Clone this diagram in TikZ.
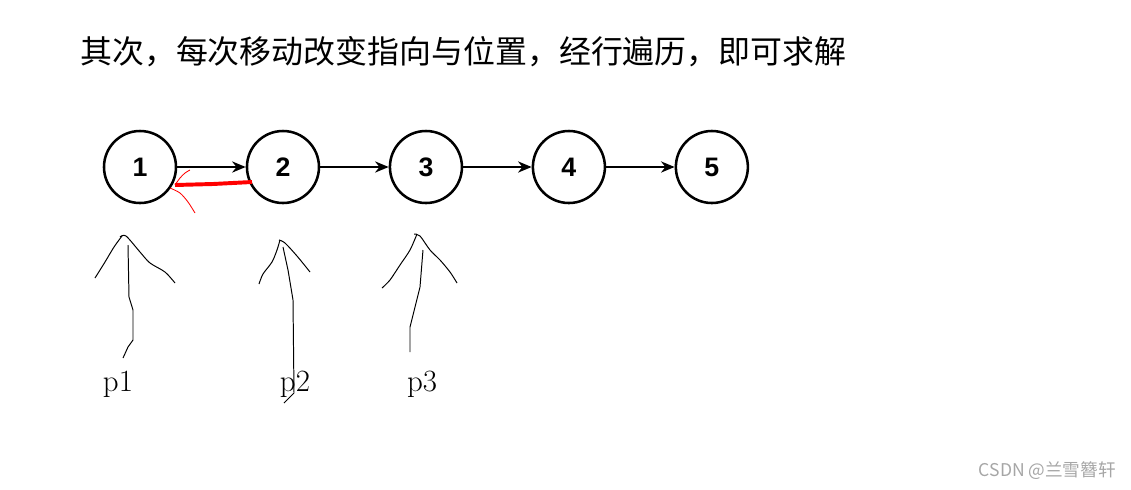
\documentclass[tikz,border=0pt]{standalone}
\usepackage{fontspec}
\setsansfont{Liberation Sans}
\newfontfamily\cjk{Noto Sans CJK SC}
\usepackage{tikz}
\usetikzlibrary{calc, positioning, arrows.meta}

\begin{document}
\begin{tikzpicture}[
    x=0.025cm, y=-0.025cm,
    node distance=1.71cm,
    listnode/.style={circle, draw, line width=1.8pt, minimum size=1.8cm, inner sep=0pt, font=\sffamily\bfseries\fontsize{19}{22}\selectfont},
    link/.style={-{Stealth[length=3.4mm, width=2.8mm]}, line width=1.4pt},
    pen/.style={line width=0.7pt, line join=round},
    redpen/.style={red, line width=0.6pt},
    label_style/.style={font=\fontsize{22}{26}\selectfont}
]
\useasboundingbox (0,0) rectangle (1131,489);

% title
\node[anchor=west, inner sep=0pt, font=\cjk\fontsize{22.7}{27}\selectfont] (title) at (80,52)
    {其次，每次移动改变指向与位置，经行遍历，即可求解};

% list
\node[listnode] (n1) at (140,167) {1};
\node[listnode, right=of n1] (n2) {2};
\node[listnode, right=of n2] (n3) {3};
\node[listnode, right=of n3] (n4) {4};
\node[listnode, right=of n4] (n5) {5};

\draw[link] (n1) -- (n2);
\draw[link] (n2) -- (n3);
\draw[link] (n3) -- (n4);
\draw[link] (n4) -- (n5);

% reversed link (red)
\draw[red, line width=2.8pt] (175,185) -- (213,184) -- (252,182);
\draw[redpen] plot[smooth] coordinates {(190,170) (185,173) (180,178) (175,185)};
\draw[redpen] plot[smooth] coordinates {(170,188) (180,193) (188,202) (195,213)};

% pointers
\node[label_style] (p1) at (118,384) {p1};
\node[label_style] (p2) at (295,384) {p2};
\node[label_style] (p3) at (422,384) {p3};

\draw[pen] plot[smooth] coordinates {(95,278) (105,262) (114,247) (122,236)};
\draw[pen] plot[smooth] coordinates {(120,237) (126,236) (140,252) (150,263) (165,272) (175,283)};
\draw[pen] plot coordinates {(128,245) (129,297) (133,310) (133,340) (128,347) (123,358)};

\draw[pen] plot[smooth] coordinates {(259,284) (263,274) (272,262) (277,250) (280,240)};
\draw[pen] plot[smooth] coordinates {(279,240) (285,243) (297,256) (310,272)};
\draw[pen] plot coordinates {(283,247) (288,270) (293,300) (294,393) (284,403)};

\draw[pen] plot[smooth] coordinates {(382,288) (390,280) (400,265) (410,250) (417,234)};
\draw[pen] plot[smooth] coordinates {(414,234) (420,236) (430,250) (440,260) (450,272) (457,283)};
\draw[pen] plot coordinates {(423,250) (420,287) (410,327) (410,352)};

% watermark
\node[anchor=east, inner sep=0pt, text=gray!70, font=\cjk\fontsize{12.5}{15}\selectfont] (mark) at (1116,471) {CSDN @兰雪簪轩};
\end{tikzpicture}
\end{document}
